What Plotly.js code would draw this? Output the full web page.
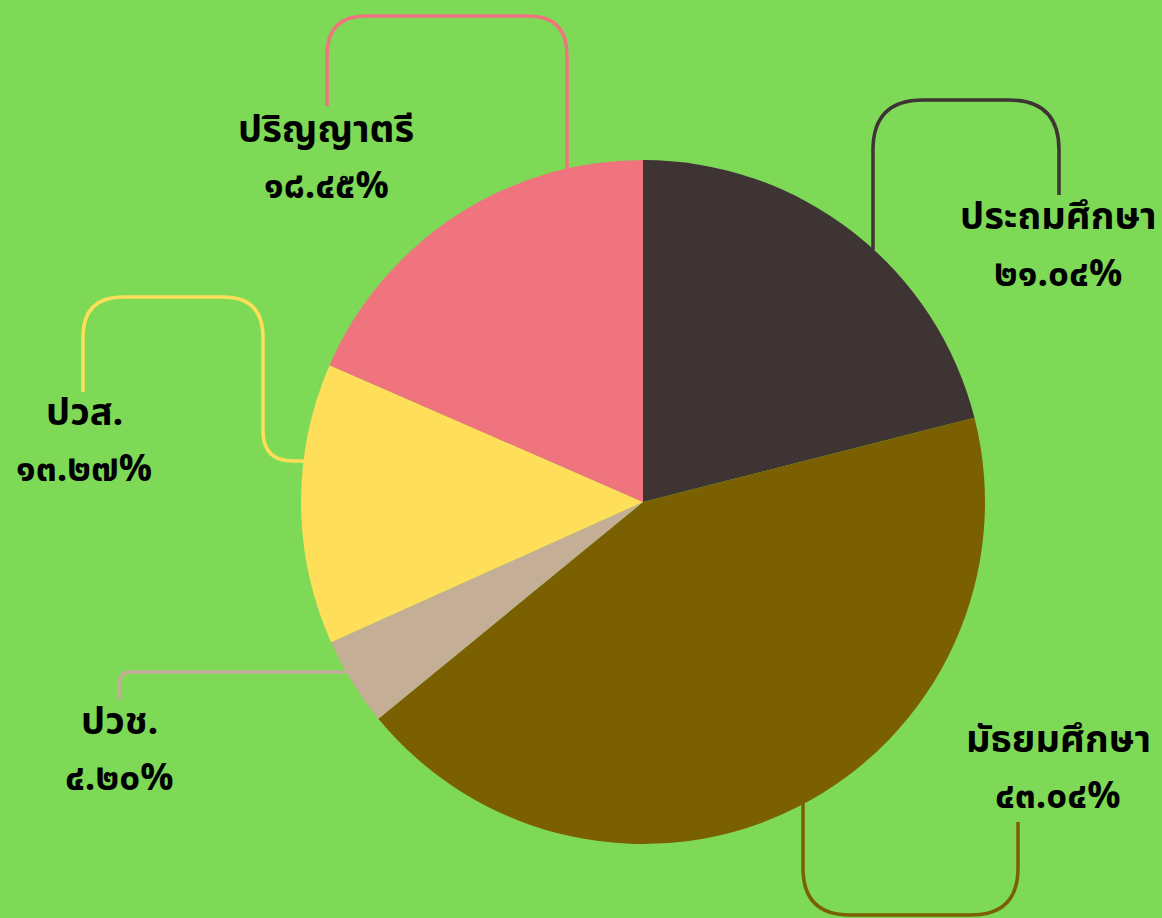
<!DOCTYPE html>
<html>
<head>
<meta charset="utf-8">
<script src="https://cdn.plot.ly/plotly-3.0.1.min.js"></script>
<style>html,body{margin:0;padding:0;background:#7ED957;}#chart{width:1162px;height:918px;}</style>
</head>
<body>
<div id="chart"></div>
<script>
const categories = ["ประถมศึกษา", "มัธยมศึกษา", "ปวช.", "ปวส.", "ปริญญาตรี"];
const shares = [21.04, 43.04, 4.20, 13.27, 18.45];
const colors = ["#3E3434", "#7A6000", "#C4AE96", "#FFDE59", "#EF747D"];

const W = 1162, H = 918;
const FONT = "'Noto Sans Thai', 'Noto Sans', 'Liberation Sans', sans-serif";

function thaiDigits(s) {
  const d = "๐๑๒๓๔๕๖๗๘๙";
  return s.replace(/[0-9]/g, c => d[+c]);
}
function px(x) { return (x / W).toFixed(5); }
function py(y) { return (1 - y / H).toFixed(5); }
function P(pts) {
  return pts.map(p => {
    if (p[0] === 'Q') return 'Q' + px(p[1]) + ',' + py(p[2]) + ' ' + px(p[3]) + ',' + py(p[4]);
    return p[0] + px(p[1]) + ',' + py(p[2]);
  }).join(' ');
}

// label placement (pixel) and connector geometry per category
const labelPos = [
  {x: 1058, y: 218},
  {x: 1058, y: 740},
  {x: 119, y: 722},
  {x: 84, y: 413},
  {x: 326, y: 130}
];
const connectors = [
  [['M', 873, 250], ['L', 873, 150], ['Q', 873, 100, 923, 100], ['L', 1009, 100], ['Q', 1059, 100, 1059, 150], ['L', 1059, 195]],
  [['M', 803, 803], ['L', 803, 868], ['Q', 803, 915, 850, 915], ['L', 971, 915], ['Q', 1018, 915, 1018, 868], ['L', 1018, 822]],
  [['M', 119, 700], ['L', 119, 684], ['Q', 119, 672, 131, 672], ['L', 348, 672]],
  [['M', 83, 392], ['L', 83, 337], ['Q', 83, 297, 123, 297], ['L', 223, 297], ['Q', 263, 297, 263, 337], ['L', 263, 431], ['Q', 263, 461, 293, 461], ['L', 306, 461]],
  [['M', 327, 106], ['L', 327, 55], ['Q', 327, 16, 366, 16], ['L', 528, 16], ['Q', 567, 16, 567, 55], ['L', 567, 170]]
];

const cx = 643, cy = 502, R = 342;

const shapes = connectors.map((c, i) => ({
  type: 'path', xref: 'paper', yref: 'paper', path: P(c),
  line: {color: colors[i], width: 3.5}, layer: 'below'
}));

const annotations = [];
categories.forEach((cat, i) => {
  annotations.push({
    xref: 'paper', yref: 'paper', x: labelPos[i].x / W, y: 1 - labelPos[i].y / H,
    xanchor: 'center', yanchor: 'middle', showarrow: false,
    text: '<b>' + cat + '</b>', font: {family: FONT, size: 38, color: '#000000'}
  });
  annotations.push({
    xref: 'paper', yref: 'paper', x: labelPos[i].x / W, y: 1 - (labelPos[i].y + 57) / H,
    xanchor: 'center', yanchor: 'middle', showarrow: false,
    text: '<b>' + thaiDigits(shares[i].toFixed(2)) + '%</b>', font: {family: FONT, size: 37, color: '#000000'}
  });
});

const data = [{
  type: 'pie',
  labels: categories,
  values: shares,
  sort: false,
  direction: 'clockwise',
  rotation: 0,
  marker: {colors: colors, line: {width: 0}},
  textinfo: 'none',
  hoverinfo: 'label+percent',
  showlegend: false,
  domain: {x: [(cx - R) / W, (cx + R) / W], y: [1 - (cy + R) / H, 1 - (cy - R) / H]}
}];

const layout = {
  width: W, height: H,
  margin: {l: 0, r: 0, t: 0, b: 0},
  paper_bgcolor: '#7ED957',
  plot_bgcolor: '#7ED957',
  shapes: shapes,
  annotations: annotations,
  showlegend: false
};

Plotly.newPlot('chart', data, layout, {displayModeBar: false, staticPlot: true});
</script>
</body>
</html>
